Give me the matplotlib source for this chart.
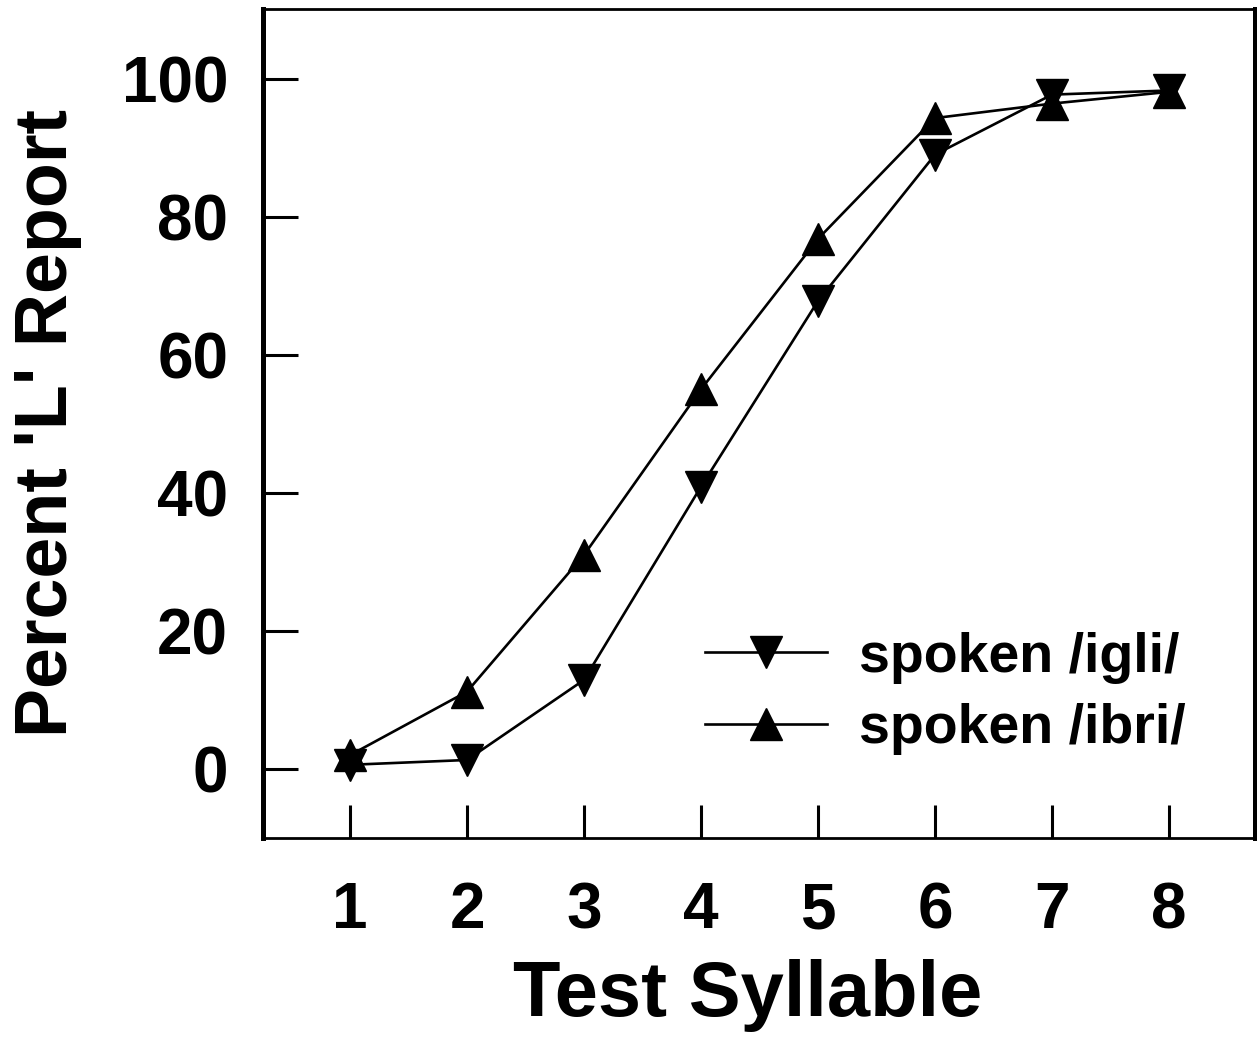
import matplotlib
matplotlib.use('Agg')
import matplotlib.pyplot as plt

plt.rcParams['font.family'] = ['Liberation Sans', 'DejaVu Sans']
plt.rcParams['font.weight'] = 'bold'

# データ
syllables = [1, 2, 3, 4, 5, 6, 7, 8]
igli = [0.6, 1.3, 12.9, 40.9, 67.8, 89.0, 97.7, 98.3]
ibri = [2.0, 11.2, 31.0, 55.0, 76.8, 94.3, 96.4, 98.1]
yticks = [0, 20, 40, 60, 80, 100]

fig = plt.figure(figsize=(12.57, 10.38), dpi=100)
ax = fig.add_axes([0.2092, 0.1927, 0.7892, 0.7986])

ax.plot(syllables, igli, 'v-', color='black', lw=1.9, ms=23, label='spoken /igli/')
ax.plot(syllables, ibri, '^-', color='black', lw=1.9, ms=23, label='spoken /ibri/')

ax.set_xlim(0.256, 8.735)
ax.set_ylim(-10, 110.1)
ax.set_xticks(syllables)
ax.set_yticks(yticks)

ax.spines['left'].set_linewidth(3.6)
ax.spines['right'].set_linewidth(3.6)
ax.spines['top'].set_linewidth(2)
ax.spines['bottom'].set_linewidth(2)

ax.tick_params(axis='y', direction='in', length=25, width=2.2, labelsize=46, pad=25)
ax.tick_params(axis='x', direction='in', length=24, width=2.2, labelsize=46, pad=31)

ax.set_xlabel('Test Syllable', fontsize=56, fontweight='bold')
ax.set_ylabel("Percent 'L' Report", fontsize=53, fontweight='bold')
ax.xaxis.set_label_coords(0.489, -0.146)
ax.yaxis.set_label_coords(-0.1826, 0.501)

# 凡例
ax.legend(loc='upper left', bbox_to_anchor=(0.4456, 0.2487), frameon=False,
          fontsize=40, handlelength=2.2, handletextpad=0.58, labelspacing=0.35,
          borderpad=0, borderaxespad=0)

fig.savefig('out.png', dpi=100)
